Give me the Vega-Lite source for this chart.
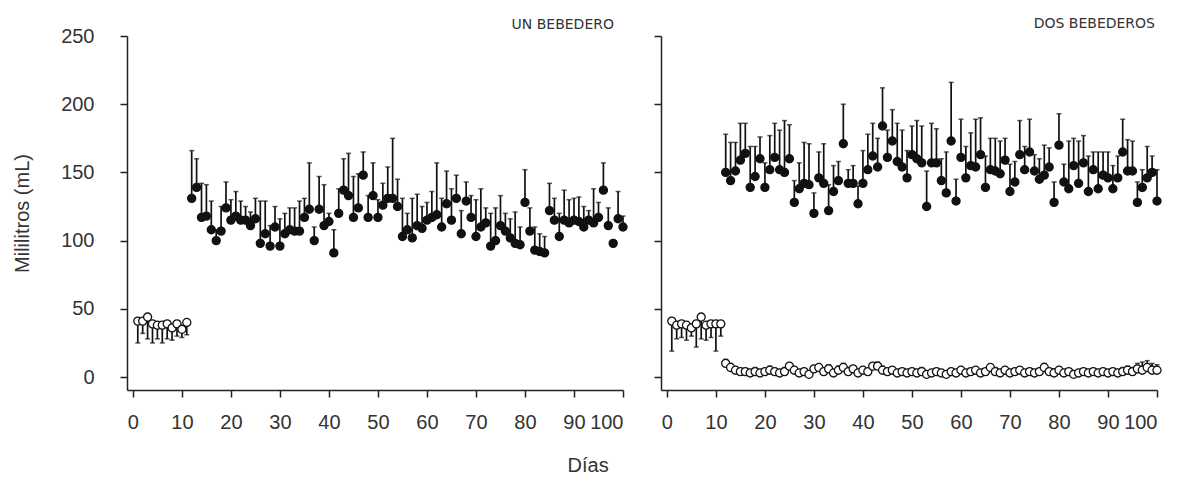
{
 "$schema": "https://vega.github.io/schema/vega-lite/v6.json",
 "background": "white",
 "padding": {"left": 12, "top": 17, "right": 5, "bottom": 5},
 "spacing": 38,
 "bounds": "flush",
 "title": {"text": "Días", "orient": "bottom", "anchor": "middle", "frame": "bounds", "fontSize": 20, "fontWeight": "normal", "font": "Liberation Sans", "color": "#333", "offset": 24},
 "config": {
  "view": {"stroke": null},
  "axis": {"labelFont": "Liberation Sans", "labelFontSize": 20, "labelColor": "#333", "titleFont": "Liberation Sans", "titleFontSize": 20, "titleFontWeight": "normal", "titleColor": "#333", "domainColor": "#222", "tickColor": "#222", "domainWidth": 1.5, "tickWidth": 1.5, "tickSize": 7, "grid": false},
  "axisY": {"labelPadding": 26, "titlePadding": 28},
  "axisX": {"labelPadding": 15}
 },
 "datasets": {
  "datos": [
   {"panel":"UN BEBEDERO","serie":"vacio","dia":1,"ml":41,"barra":25},
   {"panel":"UN BEBEDERO","serie":"vacio","dia":2,"ml":41,"barra":32},
   {"panel":"UN BEBEDERO","serie":"vacio","dia":3,"ml":44,"barra":28},
   {"panel":"UN BEBEDERO","serie":"vacio","dia":4,"ml":39,"barra":25},
   {"panel":"UN BEBEDERO","serie":"vacio","dia":5,"ml":38,"barra":28},
   {"panel":"UN BEBEDERO","serie":"vacio","dia":6,"ml":38,"barra":25},
   {"panel":"UN BEBEDERO","serie":"vacio","dia":7,"ml":39,"barra":28},
   {"panel":"UN BEBEDERO","serie":"vacio","dia":8,"ml":36,"barra":27},
   {"panel":"UN BEBEDERO","serie":"vacio","dia":9,"ml":39,"barra":30},
   {"panel":"UN BEBEDERO","serie":"vacio","dia":10,"ml":35,"barra":29},
   {"panel":"UN BEBEDERO","serie":"vacio","dia":11,"ml":40,"barra":31},
   {"panel":"UN BEBEDERO","serie":"lleno","dia":12,"ml":131,"barra":166},
   {"panel":"UN BEBEDERO","serie":"lleno","dia":13,"ml":139,"barra":160},
   {"panel":"UN BEBEDERO","serie":"lleno","dia":14,"ml":117,"barra":142},
   {"panel":"UN BEBEDERO","serie":"lleno","dia":15,"ml":118,"barra":141},
   {"panel":"UN BEBEDERO","serie":"lleno","dia":16,"ml":108,"barra":129},
   {"panel":"UN BEBEDERO","serie":"lleno","dia":17,"ml":100,"barra":108},
   {"panel":"UN BEBEDERO","serie":"lleno","dia":18,"ml":107,"barra":125},
   {"panel":"UN BEBEDERO","serie":"lleno","dia":19,"ml":124,"barra":143},
   {"panel":"UN BEBEDERO","serie":"lleno","dia":20,"ml":115,"barra":130},
   {"panel":"UN BEBEDERO","serie":"lleno","dia":21,"ml":118,"barra":136},
   {"panel":"UN BEBEDERO","serie":"lleno","dia":22,"ml":115,"barra":129},
   {"panel":"UN BEBEDERO","serie":"lleno","dia":23,"ml":115,"barra":125},
   {"panel":"UN BEBEDERO","serie":"lleno","dia":24,"ml":111,"barra":121},
   {"panel":"UN BEBEDERO","serie":"lleno","dia":25,"ml":116,"barra":131},
   {"panel":"UN BEBEDERO","serie":"lleno","dia":26,"ml":98,"barra":129},
   {"panel":"UN BEBEDERO","serie":"lleno","dia":27,"ml":105,"barra":129},
   {"panel":"UN BEBEDERO","serie":"lleno","dia":28,"ml":96,"barra":111},
   {"panel":"UN BEBEDERO","serie":"lleno","dia":29,"ml":110,"barra":125},
   {"panel":"UN BEBEDERO","serie":"lleno","dia":30,"ml":96,"barra":116},
   {"panel":"UN BEBEDERO","serie":"lleno","dia":31,"ml":105,"barra":120},
   {"panel":"UN BEBEDERO","serie":"lleno","dia":32,"ml":108,"barra":124},
   {"panel":"UN BEBEDERO","serie":"lleno","dia":33,"ml":107,"barra":124},
   {"panel":"UN BEBEDERO","serie":"lleno","dia":34,"ml":107,"barra":129},
   {"panel":"UN BEBEDERO","serie":"lleno","dia":35,"ml":117,"barra":131},
   {"panel":"UN BEBEDERO","serie":"lleno","dia":36,"ml":123,"barra":157},
   {"panel":"UN BEBEDERO","serie":"lleno","dia":37,"ml":100,"barra":110},
   {"panel":"UN BEBEDERO","serie":"lleno","dia":38,"ml":123,"barra":147},
   {"panel":"UN BEBEDERO","serie":"lleno","dia":39,"ml":111,"barra":141},
   {"panel":"UN BEBEDERO","serie":"lleno","dia":40,"ml":114,"barra":120},
   {"panel":"UN BEBEDERO","serie":"lleno","dia":41,"ml":91,"barra":108},
   {"panel":"UN BEBEDERO","serie":"lleno","dia":42,"ml":120,"barra":138},
   {"panel":"UN BEBEDERO","serie":"lleno","dia":43,"ml":137,"barra":160},
   {"panel":"UN BEBEDERO","serie":"lleno","dia":44,"ml":133,"barra":164},
   {"panel":"UN BEBEDERO","serie":"lleno","dia":45,"ml":117,"barra":147},
   {"panel":"UN BEBEDERO","serie":"lleno","dia":46,"ml":124,"barra":149},
   {"panel":"UN BEBEDERO","serie":"lleno","dia":47,"ml":148,"barra":165},
   {"panel":"UN BEBEDERO","serie":"lleno","dia":48,"ml":117,"barra":133},
   {"panel":"UN BEBEDERO","serie":"lleno","dia":49,"ml":133,"barra":157},
   {"panel":"UN BEBEDERO","serie":"lleno","dia":50,"ml":117,"barra":130},
   {"panel":"UN BEBEDERO","serie":"lleno","dia":51,"ml":126,"barra":142},
   {"panel":"UN BEBEDERO","serie":"lleno","dia":52,"ml":131,"barra":154},
   {"panel":"UN BEBEDERO","serie":"lleno","dia":53,"ml":131,"barra":175},
   {"panel":"UN BEBEDERO","serie":"lleno","dia":54,"ml":125,"barra":145},
   {"panel":"UN BEBEDERO","serie":"lleno","dia":55,"ml":103,"barra":131},
   {"panel":"UN BEBEDERO","serie":"lleno","dia":56,"ml":108,"barra":120},
   {"panel":"UN BEBEDERO","serie":"lleno","dia":57,"ml":102,"barra":131},
   {"panel":"UN BEBEDERO","serie":"lleno","dia":58,"ml":111,"barra":134},
   {"panel":"UN BEBEDERO","serie":"lleno","dia":59,"ml":109,"barra":125},
   {"panel":"UN BEBEDERO","serie":"lleno","dia":60,"ml":115,"barra":128},
   {"panel":"UN BEBEDERO","serie":"lleno","dia":61,"ml":117,"barra":136},
   {"panel":"UN BEBEDERO","serie":"lleno","dia":62,"ml":119,"barra":157},
   {"panel":"UN BEBEDERO","serie":"lleno","dia":63,"ml":110,"barra":131},
   {"panel":"UN BEBEDERO","serie":"lleno","dia":64,"ml":127,"barra":151},
   {"panel":"UN BEBEDERO","serie":"lleno","dia":65,"ml":115,"barra":138},
   {"panel":"UN BEBEDERO","serie":"lleno","dia":66,"ml":131,"barra":148},
   {"panel":"UN BEBEDERO","serie":"lleno","dia":67,"ml":105,"barra":122},
   {"panel":"UN BEBEDERO","serie":"lleno","dia":68,"ml":129,"barra":143},
   {"panel":"UN BEBEDERO","serie":"lleno","dia":69,"ml":117,"barra":133},
   {"panel":"UN BEBEDERO","serie":"lleno","dia":70,"ml":103,"barra":130},
   {"panel":"UN BEBEDERO","serie":"lleno","dia":71,"ml":110,"barra":138},
   {"panel":"UN BEBEDERO","serie":"lleno","dia":72,"ml":113,"barra":124},
   {"panel":"UN BEBEDERO","serie":"lleno","dia":73,"ml":96,"barra":120},
   {"panel":"UN BEBEDERO","serie":"lleno","dia":74,"ml":100,"barra":124},
   {"panel":"UN BEBEDERO","serie":"lleno","dia":75,"ml":111,"barra":133},
   {"panel":"UN BEBEDERO","serie":"lleno","dia":76,"ml":107,"barra":120},
   {"panel":"UN BEBEDERO","serie":"lleno","dia":77,"ml":102,"barra":116},
   {"panel":"UN BEBEDERO","serie":"lleno","dia":78,"ml":98,"barra":121},
   {"panel":"UN BEBEDERO","serie":"lleno","dia":79,"ml":97,"barra":110},
   {"panel":"UN BEBEDERO","serie":"lleno","dia":80,"ml":128,"barra":152},
   {"panel":"UN BEBEDERO","serie":"lleno","dia":81,"ml":107,"barra":124},
   {"panel":"UN BEBEDERO","serie":"lleno","dia":82,"ml":93,"barra":110},
   {"panel":"UN BEBEDERO","serie":"lleno","dia":83,"ml":92,"barra":105},
   {"panel":"UN BEBEDERO","serie":"lleno","dia":84,"ml":91,"barra":103},
   {"panel":"UN BEBEDERO","serie":"lleno","dia":85,"ml":122,"barra":142},
   {"panel":"UN BEBEDERO","serie":"lleno","dia":86,"ml":115,"barra":131},
   {"panel":"UN BEBEDERO","serie":"lleno","dia":87,"ml":103,"barra":120},
   {"panel":"UN BEBEDERO","serie":"lleno","dia":88,"ml":115,"barra":137},
   {"panel":"UN BEBEDERO","serie":"lleno","dia":89,"ml":113,"barra":130},
   {"panel":"UN BEBEDERO","serie":"lleno","dia":90,"ml":115,"barra":131},
   {"panel":"UN BEBEDERO","serie":"lleno","dia":91,"ml":114,"barra":132},
   {"panel":"UN BEBEDERO","serie":"lleno","dia":92,"ml":110,"barra":125},
   {"panel":"UN BEBEDERO","serie":"lleno","dia":93,"ml":115,"barra":122},
   {"panel":"UN BEBEDERO","serie":"lleno","dia":94,"ml":113,"barra":138},
   {"panel":"UN BEBEDERO","serie":"lleno","dia":95,"ml":117,"barra":128},
   {"panel":"UN BEBEDERO","serie":"lleno","dia":96,"ml":137,"barra":157},
   {"panel":"UN BEBEDERO","serie":"lleno","dia":97,"ml":111,"barra":124},
   {"panel":"UN BEBEDERO","serie":"lleno","dia":98,"ml":98,"barra":100},
   {"panel":"UN BEBEDERO","serie":"lleno","dia":99,"ml":116,"barra":136},
   {"panel":"UN BEBEDERO","serie":"lleno","dia":100,"ml":110,"barra":118},
   {"panel":"DOS BEBEDEROS","serie":"vacio","dia":1,"ml":41,"barra":19},
   {"panel":"DOS BEBEDEROS","serie":"vacio","dia":2,"ml":38,"barra":28},
   {"panel":"DOS BEBEDEROS","serie":"vacio","dia":3,"ml":39,"barra":29},
   {"panel":"DOS BEBEDEROS","serie":"vacio","dia":4,"ml":38,"barra":27},
   {"panel":"DOS BEBEDEROS","serie":"vacio","dia":5,"ml":36,"barra":30},
   {"panel":"DOS BEBEDEROS","serie":"vacio","dia":6,"ml":39,"barra":22},
   {"panel":"DOS BEBEDEROS","serie":"vacio","dia":7,"ml":44,"barra":28},
   {"panel":"DOS BEBEDEROS","serie":"vacio","dia":8,"ml":38,"barra":27},
   {"panel":"DOS BEBEDEROS","serie":"vacio","dia":9,"ml":39,"barra":29},
   {"panel":"DOS BEBEDEROS","serie":"vacio","dia":10,"ml":39,"barra":19},
   {"panel":"DOS BEBEDEROS","serie":"vacio","dia":11,"ml":39,"barra":30},
   {"panel":"DOS BEBEDEROS","serie":"lleno","dia":12,"ml":150,"barra":178},
   {"panel":"DOS BEBEDEROS","serie":"lleno","dia":13,"ml":144,"barra":172},
   {"panel":"DOS BEBEDEROS","serie":"lleno","dia":14,"ml":151,"barra":172},
   {"panel":"DOS BEBEDEROS","serie":"lleno","dia":15,"ml":159,"barra":186},
   {"panel":"DOS BEBEDEROS","serie":"lleno","dia":16,"ml":164,"barra":186},
   {"panel":"DOS BEBEDEROS","serie":"lleno","dia":17,"ml":139,"barra":169},
   {"panel":"DOS BEBEDEROS","serie":"lleno","dia":18,"ml":147,"barra":169},
   {"panel":"DOS BEBEDEROS","serie":"lleno","dia":19,"ml":160,"barra":176},
   {"panel":"DOS BEBEDEROS","serie":"lleno","dia":20,"ml":139,"barra":157},
   {"panel":"DOS BEBEDEROS","serie":"lleno","dia":21,"ml":152,"barra":177},
   {"panel":"DOS BEBEDEROS","serie":"lleno","dia":22,"ml":161,"barra":186},
   {"panel":"DOS BEBEDEROS","serie":"lleno","dia":23,"ml":152,"barra":181},
   {"panel":"DOS BEBEDEROS","serie":"lleno","dia":24,"ml":150,"barra":188},
   {"panel":"DOS BEBEDEROS","serie":"lleno","dia":25,"ml":160,"barra":185},
   {"panel":"DOS BEBEDEROS","serie":"lleno","dia":26,"ml":128,"barra":144},
   {"panel":"DOS BEBEDEROS","serie":"lleno","dia":27,"ml":138,"barra":157},
   {"panel":"DOS BEBEDEROS","serie":"lleno","dia":28,"ml":142,"barra":172},
   {"panel":"DOS BEBEDEROS","serie":"lleno","dia":29,"ml":141,"barra":171},
   {"panel":"DOS BEBEDEROS","serie":"lleno","dia":30,"ml":120,"barra":135},
   {"panel":"DOS BEBEDEROS","serie":"lleno","dia":31,"ml":146,"barra":165},
   {"panel":"DOS BEBEDEROS","serie":"lleno","dia":32,"ml":142,"barra":171},
   {"panel":"DOS BEBEDEROS","serie":"lleno","dia":33,"ml":122,"barra":141},
   {"panel":"DOS BEBEDEROS","serie":"lleno","dia":34,"ml":136,"barra":155},
   {"panel":"DOS BEBEDEROS","serie":"lleno","dia":35,"ml":144,"barra":158},
   {"panel":"DOS BEBEDEROS","serie":"lleno","dia":36,"ml":171,"barra":200},
   {"panel":"DOS BEBEDEROS","serie":"lleno","dia":37,"ml":142,"barra":152},
   {"panel":"DOS BEBEDEROS","serie":"lleno","dia":38,"ml":142,"barra":155},
   {"panel":"DOS BEBEDEROS","serie":"lleno","dia":39,"ml":127,"barra":140},
   {"panel":"DOS BEBEDEROS","serie":"lleno","dia":40,"ml":142,"barra":166},
   {"panel":"DOS BEBEDEROS","serie":"lleno","dia":41,"ml":152,"barra":178},
   {"panel":"DOS BEBEDEROS","serie":"lleno","dia":42,"ml":162,"barra":186},
   {"panel":"DOS BEBEDEROS","serie":"lleno","dia":43,"ml":154,"barra":175},
   {"panel":"DOS BEBEDEROS","serie":"lleno","dia":44,"ml":184,"barra":212},
   {"panel":"DOS BEBEDEROS","serie":"lleno","dia":45,"ml":161,"barra":181},
   {"panel":"DOS BEBEDEROS","serie":"lleno","dia":46,"ml":173,"barra":196},
   {"panel":"DOS BEBEDEROS","serie":"lleno","dia":47,"ml":158,"barra":186},
   {"panel":"DOS BEBEDEROS","serie":"lleno","dia":48,"ml":154,"barra":181},
   {"panel":"DOS BEBEDEROS","serie":"lleno","dia":49,"ml":146,"barra":166},
   {"panel":"DOS BEBEDEROS","serie":"lleno","dia":50,"ml":163,"barra":184},
   {"panel":"DOS BEBEDEROS","serie":"lleno","dia":51,"ml":160,"barra":188},
   {"panel":"DOS BEBEDEROS","serie":"lleno","dia":52,"ml":157,"barra":184},
   {"panel":"DOS BEBEDEROS","serie":"lleno","dia":53,"ml":125,"barra":151},
   {"panel":"DOS BEBEDEROS","serie":"lleno","dia":54,"ml":157,"barra":186},
   {"panel":"DOS BEBEDEROS","serie":"lleno","dia":55,"ml":157,"barra":182},
   {"panel":"DOS BEBEDEROS","serie":"lleno","dia":56,"ml":144,"barra":160},
   {"panel":"DOS BEBEDEROS","serie":"lleno","dia":57,"ml":135,"barra":165},
   {"panel":"DOS BEBEDEROS","serie":"lleno","dia":58,"ml":173,"barra":216},
   {"panel":"DOS BEBEDEROS","serie":"lleno","dia":59,"ml":129,"barra":145},
   {"panel":"DOS BEBEDEROS","serie":"lleno","dia":60,"ml":161,"barra":189},
   {"panel":"DOS BEBEDEROS","serie":"lleno","dia":61,"ml":146,"barra":169},
   {"panel":"DOS BEBEDEROS","serie":"lleno","dia":62,"ml":155,"barra":179},
   {"panel":"DOS BEBEDEROS","serie":"lleno","dia":63,"ml":154,"barra":189},
   {"panel":"DOS BEBEDEROS","serie":"lleno","dia":64,"ml":163,"barra":190},
   {"panel":"DOS BEBEDEROS","serie":"lleno","dia":65,"ml":139,"barra":162},
   {"panel":"DOS BEBEDEROS","serie":"lleno","dia":66,"ml":152,"barra":175},
   {"panel":"DOS BEBEDEROS","serie":"lleno","dia":67,"ml":151,"barra":175},
   {"panel":"DOS BEBEDEROS","serie":"lleno","dia":68,"ml":149,"barra":173},
   {"panel":"DOS BEBEDEROS","serie":"lleno","dia":69,"ml":159,"barra":175},
   {"panel":"DOS BEBEDEROS","serie":"lleno","dia":70,"ml":136,"barra":156},
   {"panel":"DOS BEBEDEROS","serie":"lleno","dia":71,"ml":143,"barra":158},
   {"panel":"DOS BEBEDEROS","serie":"lleno","dia":72,"ml":163,"barra":188},
   {"panel":"DOS BEBEDEROS","serie":"lleno","dia":73,"ml":152,"barra":169},
   {"panel":"DOS BEBEDEROS","serie":"lleno","dia":74,"ml":165,"barra":189},
   {"panel":"DOS BEBEDEROS","serie":"lleno","dia":75,"ml":151,"barra":163},
   {"panel":"DOS BEBEDEROS","serie":"lleno","dia":76,"ml":145,"barra":160},
   {"panel":"DOS BEBEDEROS","serie":"lleno","dia":77,"ml":148,"barra":170},
   {"panel":"DOS BEBEDEROS","serie":"lleno","dia":78,"ml":154,"barra":168},
   {"panel":"DOS BEBEDEROS","serie":"lleno","dia":79,"ml":128,"barra":143},
   {"panel":"DOS BEBEDEROS","serie":"lleno","dia":80,"ml":170,"barra":193},
   {"panel":"DOS BEBEDEROS","serie":"lleno","dia":81,"ml":143,"barra":156},
   {"panel":"DOS BEBEDEROS","serie":"lleno","dia":82,"ml":138,"barra":173},
   {"panel":"DOS BEBEDEROS","serie":"lleno","dia":83,"ml":155,"barra":175},
   {"panel":"DOS BEBEDEROS","serie":"lleno","dia":84,"ml":142,"barra":173},
   {"panel":"DOS BEBEDEROS","serie":"lleno","dia":85,"ml":157,"barra":177},
   {"panel":"DOS BEBEDEROS","serie":"lleno","dia":86,"ml":136,"barra":162},
   {"panel":"DOS BEBEDEROS","serie":"lleno","dia":87,"ml":152,"barra":165},
   {"panel":"DOS BEBEDEROS","serie":"lleno","dia":88,"ml":138,"barra":165},
   {"panel":"DOS BEBEDEROS","serie":"lleno","dia":89,"ml":148,"barra":165},
   {"panel":"DOS BEBEDEROS","serie":"lleno","dia":90,"ml":146,"barra":165},
   {"panel":"DOS BEBEDEROS","serie":"lleno","dia":91,"ml":138,"barra":155},
   {"panel":"DOS BEBEDEROS","serie":"lleno","dia":92,"ml":146,"barra":162},
   {"panel":"DOS BEBEDEROS","serie":"lleno","dia":93,"ml":165,"barra":189},
   {"panel":"DOS BEBEDEROS","serie":"lleno","dia":94,"ml":151,"barra":174},
   {"panel":"DOS BEBEDEROS","serie":"lleno","dia":95,"ml":151,"barra":173},
   {"panel":"DOS BEBEDEROS","serie":"lleno","dia":96,"ml":128,"barra":143},
   {"panel":"DOS BEBEDEROS","serie":"lleno","dia":97,"ml":139,"barra":152},
   {"panel":"DOS BEBEDEROS","serie":"lleno","dia":98,"ml":146,"barra":169},
   {"panel":"DOS BEBEDEROS","serie":"lleno","dia":99,"ml":150,"barra":162},
   {"panel":"DOS BEBEDEROS","serie":"lleno","dia":100,"ml":129,"barra":152},
   {"panel":"DOS BEBEDEROS","serie":"vacio","dia":12,"ml":10,"barra":13},
   {"panel":"DOS BEBEDEROS","serie":"vacio","dia":13,"ml":7,"barra":10},
   {"panel":"DOS BEBEDEROS","serie":"vacio","dia":14,"ml":5,"barra":7},
   {"panel":"DOS BEBEDEROS","serie":"vacio","dia":15,"ml":4,"barra":6},
   {"panel":"DOS BEBEDEROS","serie":"vacio","dia":16,"ml":4,"barra":6},
   {"panel":"DOS BEBEDEROS","serie":"vacio","dia":17,"ml":3,"barra":5},
   {"panel":"DOS BEBEDEROS","serie":"vacio","dia":18,"ml":4,"barra":7},
   {"panel":"DOS BEBEDEROS","serie":"vacio","dia":19,"ml":3,"barra":5},
   {"panel":"DOS BEBEDEROS","serie":"vacio","dia":20,"ml":4,"barra":6},
   {"panel":"DOS BEBEDEROS","serie":"vacio","dia":21,"ml":5,"barra":8},
   {"panel":"DOS BEBEDEROS","serie":"vacio","dia":22,"ml":4,"barra":6},
   {"panel":"DOS BEBEDEROS","serie":"vacio","dia":23,"ml":3,"barra":5},
   {"panel":"DOS BEBEDEROS","serie":"vacio","dia":24,"ml":4,"barra":7},
   {"panel":"DOS BEBEDEROS","serie":"vacio","dia":25,"ml":8,"barra":10},
   {"panel":"DOS BEBEDEROS","serie":"vacio","dia":26,"ml":5,"barra":7},
   {"panel":"DOS BEBEDEROS","serie":"vacio","dia":27,"ml":3,"barra":5},
   {"panel":"DOS BEBEDEROS","serie":"vacio","dia":28,"ml":4,"barra":6},
   {"panel":"DOS BEBEDEROS","serie":"vacio","dia":29,"ml":2,"barra":4},
   {"panel":"DOS BEBEDEROS","serie":"vacio","dia":30,"ml":6,"barra":8},
   {"panel":"DOS BEBEDEROS","serie":"vacio","dia":31,"ml":7,"barra":9},
   {"panel":"DOS BEBEDEROS","serie":"vacio","dia":32,"ml":4,"barra":6},
   {"panel":"DOS BEBEDEROS","serie":"vacio","dia":33,"ml":6,"barra":9},
   {"panel":"DOS BEBEDEROS","serie":"vacio","dia":34,"ml":3,"barra":5},
   {"panel":"DOS BEBEDEROS","serie":"vacio","dia":35,"ml":5,"barra":8},
   {"panel":"DOS BEBEDEROS","serie":"vacio","dia":36,"ml":7,"barra":10},
   {"panel":"DOS BEBEDEROS","serie":"vacio","dia":37,"ml":4,"barra":7},
   {"panel":"DOS BEBEDEROS","serie":"vacio","dia":38,"ml":6,"barra":8},
   {"panel":"DOS BEBEDEROS","serie":"vacio","dia":39,"ml":3,"barra":5},
   {"panel":"DOS BEBEDEROS","serie":"vacio","dia":40,"ml":5,"barra":7},
   {"panel":"DOS BEBEDEROS","serie":"vacio","dia":41,"ml":4,"barra":6},
   {"panel":"DOS BEBEDEROS","serie":"vacio","dia":42,"ml":8,"barra":10},
   {"panel":"DOS BEBEDEROS","serie":"vacio","dia":43,"ml":8,"barra":11},
   {"panel":"DOS BEBEDEROS","serie":"vacio","dia":44,"ml":5,"barra":8},
   {"panel":"DOS BEBEDEROS","serie":"vacio","dia":45,"ml":4,"barra":6},
   {"panel":"DOS BEBEDEROS","serie":"vacio","dia":46,"ml":5,"barra":7},
   {"panel":"DOS BEBEDEROS","serie":"vacio","dia":47,"ml":3,"barra":5},
   {"panel":"DOS BEBEDEROS","serie":"vacio","dia":48,"ml":4,"barra":6},
   {"panel":"DOS BEBEDEROS","serie":"vacio","dia":49,"ml":3,"barra":5},
   {"panel":"DOS BEBEDEROS","serie":"vacio","dia":50,"ml":4,"barra":6},
   {"panel":"DOS BEBEDEROS","serie":"vacio","dia":51,"ml":3,"barra":5},
   {"panel":"DOS BEBEDEROS","serie":"vacio","dia":52,"ml":4,"barra":7},
   {"panel":"DOS BEBEDEROS","serie":"vacio","dia":53,"ml":2,"barra":4},
   {"panel":"DOS BEBEDEROS","serie":"vacio","dia":54,"ml":3,"barra":5},
   {"panel":"DOS BEBEDEROS","serie":"vacio","dia":55,"ml":4,"barra":6},
   {"panel":"DOS BEBEDEROS","serie":"vacio","dia":56,"ml":3,"barra":5},
   {"panel":"DOS BEBEDEROS","serie":"vacio","dia":57,"ml":2,"barra":4},
   {"panel":"DOS BEBEDEROS","serie":"vacio","dia":58,"ml":4,"barra":6},
   {"panel":"DOS BEBEDEROS","serie":"vacio","dia":59,"ml":3,"barra":5},
   {"panel":"DOS BEBEDEROS","serie":"vacio","dia":60,"ml":5,"barra":7},
   {"panel":"DOS BEBEDEROS","serie":"vacio","dia":61,"ml":3,"barra":5},
   {"panel":"DOS BEBEDEROS","serie":"vacio","dia":62,"ml":4,"barra":6},
   {"panel":"DOS BEBEDEROS","serie":"vacio","dia":63,"ml":5,"barra":7},
   {"panel":"DOS BEBEDEROS","serie":"vacio","dia":64,"ml":3,"barra":5},
   {"panel":"DOS BEBEDEROS","serie":"vacio","dia":65,"ml":4,"barra":6},
   {"panel":"DOS BEBEDEROS","serie":"vacio","dia":66,"ml":7,"barra":9},
   {"panel":"DOS BEBEDEROS","serie":"vacio","dia":67,"ml":4,"barra":7},
   {"panel":"DOS BEBEDEROS","serie":"vacio","dia":68,"ml":3,"barra":5},
   {"panel":"DOS BEBEDEROS","serie":"vacio","dia":69,"ml":5,"barra":7},
   {"panel":"DOS BEBEDEROS","serie":"vacio","dia":70,"ml":3,"barra":5},
   {"panel":"DOS BEBEDEROS","serie":"vacio","dia":71,"ml":4,"barra":6},
   {"panel":"DOS BEBEDEROS","serie":"vacio","dia":72,"ml":5,"barra":7},
   {"panel":"DOS BEBEDEROS","serie":"vacio","dia":73,"ml":3,"barra":5},
   {"panel":"DOS BEBEDEROS","serie":"vacio","dia":74,"ml":4,"barra":6},
   {"panel":"DOS BEBEDEROS","serie":"vacio","dia":75,"ml":3,"barra":5},
   {"panel":"DOS BEBEDEROS","serie":"vacio","dia":76,"ml":4,"barra":6},
   {"panel":"DOS BEBEDEROS","serie":"vacio","dia":77,"ml":7,"barra":10},
   {"panel":"DOS BEBEDEROS","serie":"vacio","dia":78,"ml":4,"barra":6},
   {"panel":"DOS BEBEDEROS","serie":"vacio","dia":79,"ml":3,"barra":6},
   {"panel":"DOS BEBEDEROS","serie":"vacio","dia":80,"ml":5,"barra":7},
   {"panel":"DOS BEBEDEROS","serie":"vacio","dia":81,"ml":3,"barra":5},
   {"panel":"DOS BEBEDEROS","serie":"vacio","dia":82,"ml":4,"barra":6},
   {"panel":"DOS BEBEDEROS","serie":"vacio","dia":83,"ml":2,"barra":4},
   {"panel":"DOS BEBEDEROS","serie":"vacio","dia":84,"ml":3,"barra":5},
   {"panel":"DOS BEBEDEROS","serie":"vacio","dia":85,"ml":4,"barra":6},
   {"panel":"DOS BEBEDEROS","serie":"vacio","dia":86,"ml":3,"barra":5},
   {"panel":"DOS BEBEDEROS","serie":"vacio","dia":87,"ml":4,"barra":6},
   {"panel":"DOS BEBEDEROS","serie":"vacio","dia":88,"ml":3,"barra":5},
   {"panel":"DOS BEBEDEROS","serie":"vacio","dia":89,"ml":4,"barra":6},
   {"panel":"DOS BEBEDEROS","serie":"vacio","dia":90,"ml":3,"barra":5},
   {"panel":"DOS BEBEDEROS","serie":"vacio","dia":91,"ml":4,"barra":6},
   {"panel":"DOS BEBEDEROS","serie":"vacio","dia":92,"ml":3,"barra":5},
   {"panel":"DOS BEBEDEROS","serie":"vacio","dia":93,"ml":4,"barra":7},
   {"panel":"DOS BEBEDEROS","serie":"vacio","dia":94,"ml":5,"barra":8},
   {"panel":"DOS BEBEDEROS","serie":"vacio","dia":95,"ml":4,"barra":7},
   {"panel":"DOS BEBEDEROS","serie":"vacio","dia":96,"ml":6,"barra":10},
   {"panel":"DOS BEBEDEROS","serie":"vacio","dia":97,"ml":5,"barra":11},
   {"panel":"DOS BEBEDEROS","serie":"vacio","dia":98,"ml":7,"barra":12},
   {"panel":"DOS BEBEDEROS","serie":"vacio","dia":99,"ml":5,"barra":10},
   {"panel":"DOS BEBEDEROS","serie":"vacio","dia":100,"ml":5,"barra":9}
  ]
 },
 "hconcat": [
  {
   "width": 496, "height": 354,
   "title": {"text": "UN BEBEDERO", "anchor": "end", "frame": "group", "fontSize": 14, "fontWeight": "normal", "font": "DejaVu Sans", "color": "#333", "offset": -6, "dx": -9},
   "data": {"name": "datos"},
   "transform": [{"filter": "datum.panel == 'UN BEBEDERO'"}],
   "encoding": {
    "x": {"field": "dia", "type": "quantitative", "scale": {"domain": [-1.2, 100], "nice": false, "zero": false}, "axis": {"values": [0,10,20,30,40,50,60,70,80,90,100], "title": null}}
   },
   "layer": [
    {"mark": {"type": "rule", "color": "#111", "strokeWidth": 1.7},
     "encoding": {"y": {"field": "ml", "type": "quantitative", "title": "Mililitros (mL)", "scale": {"domain": [-9.5, 250], "nice": false, "zero": false}, "axis": {"values": [0,50,100,150,200,250]}}, "y2": {"field": "barra"}}},
    {"mark": {"type": "tick", "color": "#111", "orient": "horizontal", "size": 5, "thickness": 1.5},
     "encoding": {"y": {"field": "barra", "type": "quantitative", "title": "Mililitros (mL)"}}},
    {"mark": {"type": "point", "shape": "circle", "filled": true, "stroke": "#111", "strokeWidth": 1.3, "size": 65, "opacity": 1},
     "encoding": {"y": {"field": "ml", "type": "quantitative", "title": "Mililitros (mL)"}, "fill": {"field": "serie", "type": "nominal", "scale": {"domain": ["lleno", "vacio"], "range": ["#111111", "#ffffff"]}, "legend": null}}}
   ]
  },
  {
   "width": 496, "height": 354,
   "title": {"text": "DOS BEBEDEROS", "anchor": "end", "frame": "group", "fontSize": 14, "fontWeight": "normal", "font": "DejaVu Sans", "color": "#333", "offset": 4, "dx": -2},
   "data": {"name": "datos"},
   "transform": [{"filter": "datum.panel == 'DOS BEBEDEROS'"}],
   "encoding": {
    "x": {"field": "dia", "type": "quantitative", "scale": {"domain": [-1.2, 100], "nice": false, "zero": false}, "axis": {"values": [0,10,20,30,40,50,60,70,80,90,100], "title": null}}
   },
   "layer": [
    {"mark": {"type": "rule", "color": "#111", "strokeWidth": 1.7},
     "encoding": {"y": {"field": "ml", "type": "quantitative", "title": null, "scale": {"domain": [-9.5, 250], "nice": false, "zero": false}, "axis": {"values": [0,50,100,150,200,250], "labels": false, "title": null}}, "y2": {"field": "barra"}}},
    {"mark": {"type": "tick", "color": "#111", "orient": "horizontal", "size": 5, "thickness": 1.5},
     "encoding": {"y": {"field": "barra", "type": "quantitative", "title": null}}},
    {"mark": {"type": "point", "shape": "circle", "filled": true, "stroke": "#111", "strokeWidth": 1.3, "size": 65, "opacity": 1},
     "encoding": {"y": {"field": "ml", "type": "quantitative", "title": null}, "fill": {"field": "serie", "type": "nominal", "scale": {"domain": ["lleno", "vacio"], "range": ["#111111", "#ffffff"]}, "legend": null}}}
   ]
  }
 ]
}
